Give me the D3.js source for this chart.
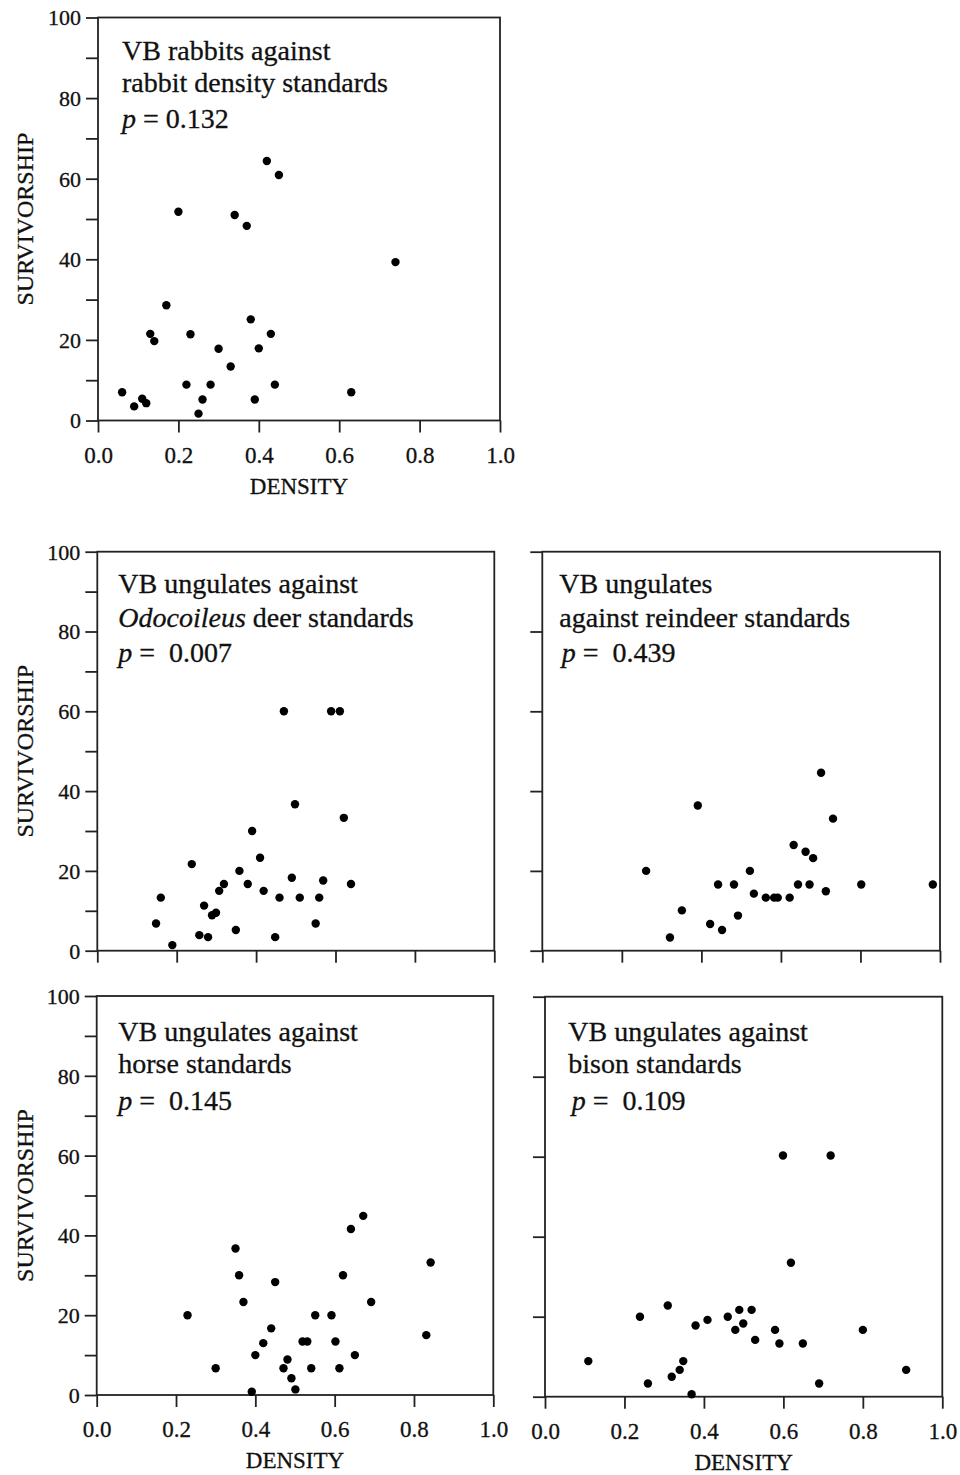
<!DOCTYPE html>
<html>
<head>
<meta charset="utf-8">
<script src="https://cdn.jsdelivr.net/npm/d3@7"></script>
<style>
  html, body { margin: 0; padding: 0; background: #fff; }
  svg { display: block; }
  text { font-family: "Liberation Serif", "Times New Roman", serif; fill: #111; stroke: #111; stroke-width: 0.3px; }
</style>
</head>
<body>
<svg id="chart" width="960" height="1475"></svg>
<script>
// ---------- data ----------
const densityTicks = [0, 0.2, 0.4, 0.6, 0.8, 1.0];
const survTicks = [0, 10, 20, 30, 40, 50, 60, 70, 80, 90, 100];
const survMajorTicks = [0, 20, 40, 60, 80, 100];
const survTicksNoLabel = [0, 20, 40, 60, 80, 100];

const rabbitDensity = [0.06,0.09,0.11,0.12,0.13,0.14,0.17,0.20,0.22,0.23,0.25,0.26,0.28,0.30,0.33,0.34,0.37,0.38,0.39,0.40,0.42,0.43,0.44,0.45,0.63,0.74];
const rabbitSurv    = [7.0,3.5,5.4,4.3,21.5,19.7,28.6,51.8,8.9,21.4,1.7,5.2,8.9,17.8,13.4,51.0,48.3,25.1,5.2,17.9,64.4,21.5,8.9,60.9,7.0,39.3];

const deerDensity = [0.148,0.160,0.189,0.238,0.257,0.269,0.279,0.289,0.299,0.307,0.319,0.349,0.358,0.379,0.390,0.410,0.419,0.448,0.459,0.470,0.490,0.498,0.510,0.550,0.559,0.569,0.589,0.611,0.621,0.639];
const deerSurv    = [6.8,13.3,1.4,21.7,3.9,11.3,3.4,8.9,9.5,15.0,16.7,5.2,20.0,16.7,30.0,23.3,15.0,3.4,13.3,60.0,18.3,36.7,13.3,6.8,13.3,17.6,60.0,60.0,33.3,16.7];

const reindeerDensity = [0.261,0.321,0.351,0.391,0.422,0.442,0.452,0.482,0.492,0.522,0.532,0.562,0.583,0.592,0.622,0.632,0.643,0.662,0.672,0.681,0.701,0.713,0.731,0.802,0.982];
const reindeerSurv    = [20.0,3.3,10.1,36.4,6.7,16.6,5.2,16.6,8.8,20.0,14.3,13.3,13.3,13.3,13.3,26.5,16.6,24.8,16.6,23.2,44.6,14.9,33.1,16.6,16.6];

const horseDensity = [0.229,0.300,0.350,0.359,0.370,0.391,0.400,0.420,0.440,0.450,0.471,0.481,0.491,0.501,0.519,0.531,0.541,0.551,0.592,0.602,0.612,0.621,0.641,0.651,0.672,0.692,0.831,0.842];
const horseSurv    = [20.0,6.7,36.7,30.0,23.3,0.8,10.0,13.0,16.7,28.3,6.7,8.9,4.2,1.4,13.4,13.4,6.7,20.0,20.0,13.4,6.7,30.0,41.6,10.0,44.9,23.3,15.0,33.2];

const bisonDensity = [0.109,0.239,0.259,0.309,0.319,0.339,0.348,0.369,0.379,0.409,0.460,0.479,0.489,0.499,0.520,0.529,0.579,0.590,0.599,0.619,0.649,0.690,0.719,0.800,0.909];
const bisonSurv    = [8.9,20.0,3.3,22.8,5.0,6.7,8.9,0.6,17.8,19.2,20.0,16.7,21.7,18.3,21.7,14.2,16.7,13.3,60.3,33.5,13.3,3.3,60.3,16.7,6.7];

// title lines: arrays of [text, italic]
const rabbitTitle = [[["VB rabbits against", false]], [["rabbit density standards", false]], [["p", true], ["\u00a0=\u00a00.132", false]]];
const deerTitle = [[["VB ungulates against", false]], [["Odocoileus", true], [" deer standards", false]], [["p", true], ["\u00a0=\u00a0\u00a00.007", false]]];
const reindeerTitle = [[["VB ungulates", false]], [["against reindeer standards", false]], [["p", true], ["\u00a0=\u00a0\u00a00.439", false]]];
const horseTitle = [[["VB ungulates against", false]], [["horse standards", false]], [["p", true], ["\u00a0=\u00a0\u00a00.145", false]]];
const bisonTitle = [[["VB ungulates against", false]], [["bison standards", false]], [["p", true], ["\u00a0=\u00a0\u00a00.109", false]]];

const xTitle = "DENSITY";
const yTitle = "SURVIVORSHIP";

// ---------- layout ----------
const panels = [
  {dx: rabbitDensity, sy: rabbitSurv, title: rabbitTitle, x0: 98, x1: 500, yt: 17.5, yb: 420.5, yLab: true, xLab: true, tx: 122, tys: [60, 92, 128], px: 122},
  {dx: deerDensity, sy: deerSurv, title: deerTitle, x0: 97.3, x1: 494.3, yt: 551.7, yb: 950.7, yLab: true, xLab: false, tx: 118.3, tys: [593, 626.5, 661.5], px: 118.3},
  {dx: reindeerDensity, sy: reindeerSurv, title: reindeerTitle, x0: 542.3, x1: 940, yt: 551.7, yb: 950.7, yLab: false, xLab: false, tx: 559.3, tys: [593, 626.5, 661.5], px: 561.7},
  {dx: horseDensity, sy: horseSurv, title: horseTitle, x0: 96.7, x1: 493.3, yt: 996, yb: 1395, yLab: true, xLab: true, tx: 118.3, tys: [1041, 1073, 1110], px: 118.3},
  {dx: bisonDensity, sy: bisonSurv, title: bisonTitle, x0: 545, x1: 942.3, yt: 996.7, yb: 1396.7, yLab: false, xLab: true, tx: 568.3, tys: [1041, 1073, 1110], px: 571.7}
];

const ink = "#222";
const svg = d3.select("#chart");

panels.forEach(p => {
  const x = d3.scaleLinear().domain([0, 1]).range([p.x0, p.x1]);
  const y = d3.scaleLinear().domain([0, 100]).range([p.yb, p.yt]);
  const g = svg.append("g");

  // frame
  g.append("rect")
    .attr("x", x(0)).attr("y", y(100))
    .attr("width", x(1) - x(0)).attr("height", y(0) - y(100))
    .attr("fill", "none").attr("stroke", ink).attr("stroke-width", 1.8);

  // x axis
  const xa = g.append("g").attr("transform", `translate(0,${y(0)})`)
    .call(d3.axisBottom(x).tickValues(densityTicks).tickSize(12).tickSizeOuter(0)
      .tickFormat(p.xLab ? d3.format(".1f") : () => ""));
  xa.select(".domain").remove();
  xa.selectAll(".tick line").attr("stroke", ink).attr("stroke-width", 1.8);
  xa.selectAll(".tick text").attr("y", 42).attr("dy", null)
    .style("font-size", "23px").attr("fill", "#111");

  // y axis
  const ya = g.append("g").attr("transform", `translate(${x(0)},0)`)
    .call(d3.axisLeft(y).tickValues(p.yLab ? survTicks : survTicksNoLabel).tickSize(12).tickSizeOuter(0).tickPadding(5)
      .tickFormat(d => (p.yLab && survMajorTicks.includes(d)) ? d3.format("d")(d) : ""));
  ya.select(".domain").remove();
  ya.selectAll(".tick line").attr("stroke", ink).attr("stroke-width", 1.8);
  ya.selectAll(".tick text").attr("dy", "0.34em")
    .style("font-size", "22px").attr("fill", "#111");

  // axis titles
  if (p.xLab) {
    g.append("text")
      .attr("x", (x(0) + x(1)) / 2).attr("y", y(0) + 73)
      .attr("text-anchor", "middle").style("font-size", "23px")
      .text(xTitle);
  }
  if (p.yLab) {
    g.append("text")
      .attr("transform", `translate(33,${(y(0) + y(100)) / 2}) rotate(-90)`)
      .attr("text-anchor", "middle").style("font-size", "24px")
      .text(yTitle);
  }

  // in-panel title
  p.title.forEach((line, i) => {
    const t = g.append("text")
      .attr("x", i === 2 ? p.px : p.tx).attr("y", p.tys[i])
      .style("font-size", "28px");
    line.forEach(([s, it]) => {
      t.append("tspan").style("font-style", it ? "italic" : "normal").text(s);
    });
  });

  // points
  g.selectAll("circle.pt")
    .data(d3.zip(p.dx, p.sy))
    .join("circle")
    .attr("class", "pt")
    .attr("cx", d => x(d[0]))
    .attr("cy", d => y(d[1]))
    .attr("r", 4.2)
    .attr("fill", "#000");
});
</script>
</body>
</html>
